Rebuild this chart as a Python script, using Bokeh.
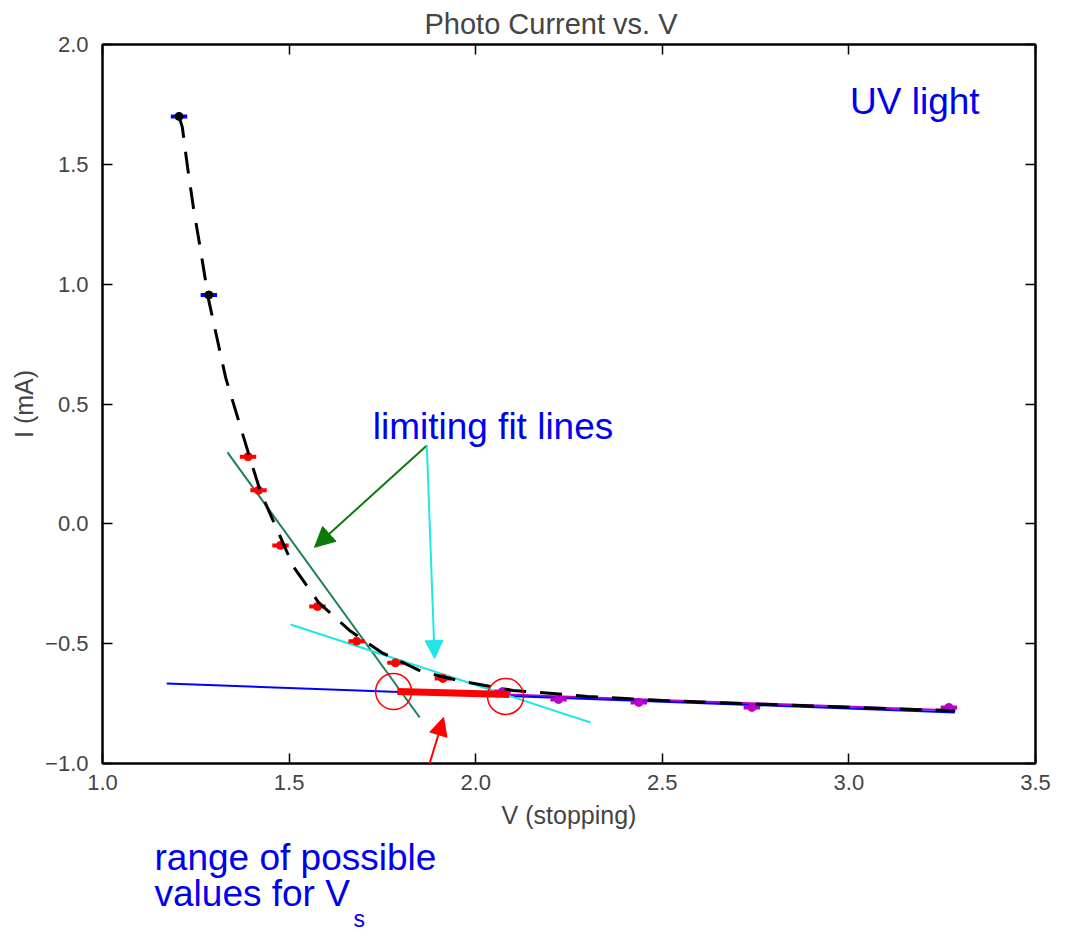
from bokeh.plotting import figure
from bokeh.models import (Range1d, LinearAxis, FixedTicker, Label, Arrow, NormalHead, Title)
from bokeh.embed import file_html
from bokeh.resources import INLINE

# ---- data ----
V_blue_pts = [1.205, 1.285]
I_blue_pts = [1.70, 0.955]
V_red_pts = [1.39, 1.418, 1.477, 1.576, 1.681, 1.785, 1.912]
I_red_pts = [0.28, 0.14, -0.09, -0.345, -0.49, -0.58, -0.645]
V_mag_pts = [2.072, 2.222, 2.437, 2.74, 3.268]
I_mag_pts = [-0.70, -0.733, -0.745, -0.766, -0.766]
V_err = 0.022

# dashed fitted curve
V_curve = [1.205, 1.214, 1.228, 1.244, 1.263, 1.285, 1.33, 1.39, 1.424, 1.464, 1.512,
           1.579, 1.662, 1.748, 1.855, 1.962, 2.10, 2.30, 2.50, 2.75, 3.00, 3.285]
I_curve = [1.70, 1.654, 1.487, 1.316, 1.14, 0.93, 0.61, 0.30, 0.13, -0.01, -0.18,
           -0.328, -0.445, -0.537, -0.616, -0.657, -0.695, -0.72, -0.737, -0.752, -0.765, -0.78]

# fit lines
V_blue_line = [1.172, 3.284]
I_blue_line = [-0.666, -0.787]
V_mag_line = [2.0, 3.27]
I_mag_line = [-0.707, -0.778]
V_green_line = [1.335, 1.850]
I_green_line = [0.298, -0.808]
V_cyan_line = [1.504, 2.308]
I_cyan_line = [-0.42, -0.829]
V_range = [1.79, 2.09]
I_range = [-0.70, -0.712]
V_circles = [1.78, 2.08]
I_circles = [-0.70, -0.72]

x_ticks = [1.0, 1.5, 2.0, 2.5, 3.0, 3.5]
y_ticks = [-1.0, -0.5, 0.0, 0.5, 1.0, 1.5, 2.0]
y_tick_labels = ["\u22121.0", "\u22120.5", "0.0", "0.5", "1.0", "1.5", "2.0"]
x_tick_labels = ["1.0", "1.5", "2.0", "2.5", "3.0", "3.5"]

FONT = "Liberation Sans"
BLUE_TXT = "#0000F0"

p = figure(frame_width=933, frame_height=719, output_backend="svg", toolbar_location=None,
           x_range=Range1d(1.0, 3.5), y_range=Range1d(-1.0, 2.0),
           min_border_left=95, min_border_right=20, min_border_top=36, min_border_bottom=0,
           x_axis_label="V (stopping)", y_axis_label="I (mA)", margin=(0, 0, 0, 7))
p.grid.visible = False
p.outline_line_color = "black"
p.outline_line_width = 2
p.background_fill_color = "white"
p.border_fill_color = "white"

p.title = Title(text="Photo Current vs. V", align="left", offset=322, text_font=FONT,
                text_font_size="29px", text_font_style="normal", standoff=10)

for ax in (p.xaxis[0], p.yaxis[0]):
    ax.major_tick_in = 10
    ax.major_tick_out = 0
    ax.minor_tick_line_color = None
    ax.axis_line_width = 2
    ax.major_tick_line_width = 1.5
    ax.major_label_text_font = FONT
    ax.major_label_text_font_size = "22px"
    ax.axis_label_text_font = FONT
    ax.axis_label_text_font_size = "25px"
    ax.axis_label_text_font_style = "normal"

p.xaxis[0].ticker = FixedTicker(ticks=x_ticks)
p.yaxis[0].ticker = FixedTicker(ticks=y_ticks)
p.xaxis[0].major_label_overrides = {t: l for t, l in zip(x_ticks, x_tick_labels)}
p.yaxis[0].major_label_overrides = {t: l for t, l in zip(y_ticks, y_tick_labels)}
p.xaxis[0].major_label_standoff = 11
p.xaxis[0].axis_label_standoff = 8
p.yaxis[0].major_label_standoff = 14
p.yaxis[0].axis_label_standoff = 4

top_ax = LinearAxis(ticker=FixedTicker(ticks=x_ticks), major_tick_in=10, major_tick_out=0,
                    minor_tick_line_color=None, major_label_text_font_size="2px",
                    major_label_overrides={t: "" for t in x_ticks},
                    major_label_standoff=0, axis_line_width=2, major_tick_line_width=1.5)
right_ax = LinearAxis(ticker=FixedTicker(ticks=y_ticks), major_tick_in=10, major_tick_out=0,
                      minor_tick_line_color=None, major_label_text_font_size="2px",
                      major_label_overrides={t: "" for t in y_ticks},
                      major_label_standoff=0, axis_line_width=2, major_tick_line_width=1.5)
p.add_layout(top_ax, "above")
p.add_layout(right_ax, "right")

# texts below the axis (as side-panel titles so that they are not clipped)
t1 = Title(text="range of possible", align="left", offset=52, text_font=FONT,
           text_font_size="37px", text_font_style="normal", text_color=BLUE_TXT, standoff=7)
t2 = Title(text="values for V", align="left", offset=52, text_font=FONT,
           text_font_size="37px", text_font_style="normal", text_color=BLUE_TXT, standoff=-21)
t3 = Title(text="s", align="left", offset=251, text_font=FONT,
           text_font_size="23px", text_font_style="normal", text_color=BLUE_TXT, standoff=0)
p.add_layout(t1, "below")
p.add_layout(t2, "below")
p.add_layout(t3, "below")

# fit lines
p.line(V_mag_line, I_mag_line, line_color="#C000C8", line_width=2)
p.line(V_blue_line, I_blue_line, line_color="#0000FF", line_width=2)
p.line(V_green_line, I_green_line, line_color="#1F7F55", line_width=2)
p.line(V_cyan_line, I_cyan_line, line_color="#22E6E6", line_width=2)

# data with horizontal error bars
def pts(V, I, bar_color, dot_color):
    p.segment(x0=[v - V_err for v in V], x1=[v + V_err for v in V], y0=I, y1=I,
              line_color=bar_color, line_width=4)
    p.scatter(V, I, size=8, fill_color=dot_color, line_color=dot_color)

pts(V_blue_pts, I_blue_pts, "#0000FF", "black")
pts(V_red_pts, I_red_pts, "#FF0000", "#FF0000")
pts(V_mag_pts, I_mag_pts, "#BB00CC", "#BB00CC")

# dashed curve
p.line(V_curve, I_curve, line_color="black", line_width=3, line_dash="22 14")

# range for Vs
p.line(V_range, I_range, line_color="#FF0000", line_width=7)
p.scatter(V_circles, I_circles, size=36, fill_color=None, line_color="#FF0000", line_width=1.5)

# arrows
p.add_layout(Arrow(x_start=1.869, y_start=0.327, x_end=1.568, y_end=-0.098,
                   line_color="#0A7A0A", line_width=2,
                   end=NormalHead(size=20, fill_color="#0A7A0A", line_color="#0A7A0A")))
p.add_layout(Arrow(x_start=1.869, y_start=0.327, x_end=1.890, y_end=-0.562,
                   line_color="#22E6E6", line_width=2,
                   end=NormalHead(size=18, fill_color="#22E6E6", line_color="#22E6E6")))
p.add_layout(Arrow(x_start=1.834, y_start=-1.217, x_end=1.914, y_end=-0.808,
                   line_color="#FF0000", line_width=2,
                   end=NormalHead(size=18, fill_color="#FF0000", line_color="#FF0000")))

# texts inside the frame
p.add_layout(Label(x=3.003, y=1.764, text="UV light", text_font=FONT,
                   text_font_size="37px", text_color=BLUE_TXT, text_baseline="alphabetic"))
p.add_layout(Label(x=1.724, y=0.406, text="limiting fit lines", text_font=FONT,
                   text_font_size="37px", text_color=BLUE_TXT, text_baseline="alphabetic"))

open("out.html", "w").write(file_html(p, INLINE))
